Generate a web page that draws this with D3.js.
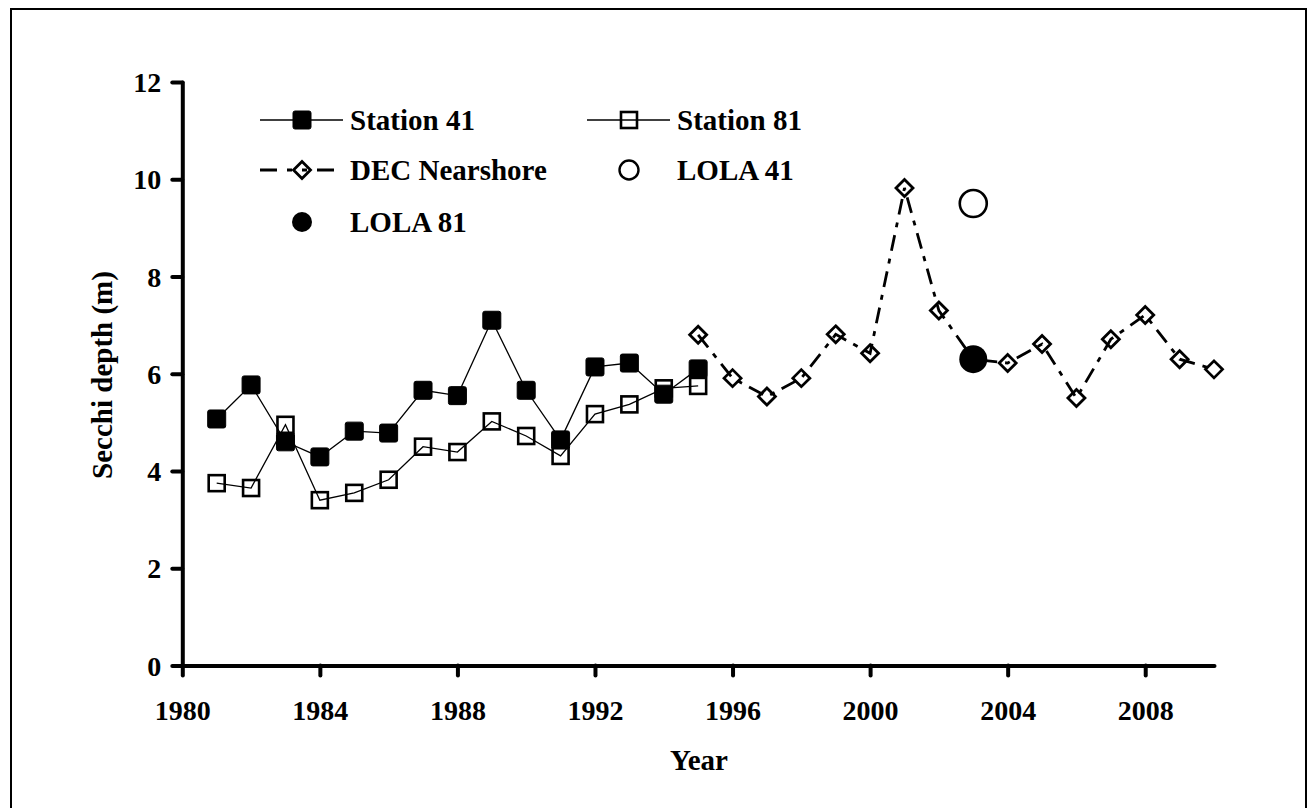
<!DOCTYPE html>
<html>
<head>
<meta charset="utf-8">
<script src="https://cdn.jsdelivr.net/npm/d3@7"></script>
<style>
html,body{margin:0;padding:0;background:#fff;}
svg{display:block;}
text{font-family:"Liberation Serif","Times New Roman",serif;font-weight:bold;fill:#000;}
</style>
</head>
<body>
<svg id="chart" width="1308" height="808"></svg>
<script>
// ---- data ----
const stationYears = [1981,1982,1983,1984,1985,1986,1987,1988,1989,1990,1991,1992,1993,1994,1995];
const station41 = [5.07,5.77,4.6,4.29,4.82,4.78,5.66,5.55,7.1,5.66,4.64,6.14,6.22,5.58,6.1];
const station81 = [3.75,3.65,4.95,3.4,3.55,3.82,4.5,4.39,5.02,4.72,4.31,5.17,5.37,5.7,5.75];
const decYears = [1995,1996,1997,1998,1999,2000,2001,2002,2003,2004,2005,2006,2007,2008,2009,2010];
const decNearshore = [6.8,5.91,5.53,5.91,6.81,6.42,9.82,7.3,6.3,6.22,6.61,5.5,6.71,7.21,6.3,6.09];
const lolaYears = [2003];
const lola41 = [9.5];
const lola81 = [6.3];
const xTickValues = [1980,1984,1988,1992,1996,2000,2004,2008];
const yTickValues = [0,2,4,6,8,10,12];
const legendLabels = ["Station 41","Station 81","DEC Nearshore","LOLA 41","LOLA 81"];

const svg = d3.select("#chart");
// outer frame
svg.append("rect").attr("x",11).attr("y",9).attr("width",1295).attr("height",840)
  .attr("fill","none").attr("stroke","#000").attr("stroke-width",2);

const x = d3.scaleLinear().domain([1980,2010]).range([182.3,1214]);
const y = d3.scaleLinear().domain([0,12]).range([665.5,82]);

// axes
const yAxis = svg.append("g").attr("transform","translate(182.3,0)")
  .call(d3.axisLeft(y).tickValues(yTickValues).tickSize(10).tickSizeOuter(0).tickPadding(11).tickFormat(d3.format("d")));
const xAxis = svg.append("g").attr("transform","translate(0,665.5)")
  .call(d3.axisBottom(x).tickValues(xTickValues).tickSize(10).tickSizeOuter(0).tickPadding(25).tickFormat(d3.format("d")));
[yAxis,xAxis].forEach(g=>{
  g.attr("font-family",null).attr("font-size",null);
  g.select(".domain").attr("stroke","#000").attr("stroke-width",4).attr("stroke-linecap","round");
  g.selectAll(".tick line").attr("stroke","#000").attr("stroke-width",4).attr("stroke-linecap","round");
  g.selectAll(".tick text").style("font-size","28px").attr("fill","#000");
});
yAxis.selectAll(".tick text").attr("dy","0.34em");
xAxis.selectAll(".tick text").attr("dy","0.71em");

// axis titles
svg.append("text").attr("x",699).attr("y",770).attr("text-anchor","middle").style("font-size","29px").text("Year");
svg.append("text").attr("transform","translate(112,375) rotate(-90)").attr("text-anchor","middle").style("font-size","29px").text("Secchi depth (m)");

const plot = svg.append("g");
const line = d3.line().x(d=>x(d[0])).y(d=>y(d[1]));
const s41 = stationYears.map((yr,i)=>[yr,station41[i]]);
const s81 = stationYears.map((yr,i)=>[yr,station81[i]]);
const dec = decYears.map((yr,i)=>[yr,decNearshore[i]]);

const sq = 18;
function filledSquare(g,cx,cy){
  g.append("rect").attr("x",cx-sq/2).attr("y",cy-sq/2).attr("width",sq).attr("height",sq).attr("rx",2)
   .attr("fill","#000").attr("stroke","#000").attr("stroke-width",1);
}
function openSquare(g,cx,cy){
  g.append("rect").attr("x",cx-8).attr("y",cy-8).attr("width",16).attr("height",16)
   .attr("fill","none").attr("stroke","#000").attr("stroke-width",2.6);
}
function diamond(g,cx,cy){
  const r=8.5;
  g.append("path").attr("d",`M${cx},${cy-r}L${cx+r},${cy}L${cx},${cy+r}L${cx-r},${cy}Z`)
   .attr("fill","none").attr("stroke","#000").attr("stroke-width",2.8).attr("stroke-linejoin","miter");
}
const decDash = "16,8,5,8";

// Station 41
plot.append("path").attr("d",line(s41)).attr("fill","none").attr("stroke","#000").attr("stroke-width",1.3);
s41.forEach(d=>filledSquare(plot,x(d[0]),y(d[1])));
// Station 81
plot.append("path").attr("d",line(s81)).attr("fill","none").attr("stroke","#000").attr("stroke-width",1.3);
s81.forEach(d=>openSquare(plot,x(d[0]),y(d[1])));
// DEC Nearshore
plot.append("path").attr("d",line(dec)).attr("fill","none").attr("stroke","#000").attr("stroke-width",2.8).attr("stroke-dasharray",decDash);
dec.forEach(d=>diamond(plot,x(d[0]),y(d[1])));
// LOLA
lolaYears.forEach((yr,i)=>{
  plot.append("circle").attr("cx",x(yr)).attr("cy",y(lola41[i])).attr("r",13.5).attr("fill","#fff").attr("stroke","#000").attr("stroke-width",2.6);
  plot.append("circle").attr("cx",x(yr)).attr("cy",y(lola81[i])).attr("r",14).attr("fill","#000");
});

// legend
const lg = svg.append("g");
const col1 = 302, col2 = 629, rows = [120,170,222];
function legText(cx,cy,t){ lg.append("text").attr("x",cx+48).attr("y",cy+10).style("font-size","29px").text(t); }
// Station 41
lg.append("line").attr("x1",col1-42).attr("x2",col1+41).attr("y1",rows[0]).attr("y2",rows[0]).attr("stroke","#000").attr("stroke-width",1.3);
filledSquare(lg,col1,rows[0]); legText(col1,rows[0],legendLabels[0]);
// Station 81
lg.append("line").attr("x1",col2-42).attr("x2",col2+41).attr("y1",rows[0]).attr("y2",rows[0]).attr("stroke","#000").attr("stroke-width",1.3);
openSquare(lg,col2,rows[0]); legText(col2,rows[0],legendLabels[1]);
// DEC
lg.append("line").attr("x1",col1-42).attr("x2",col1+41).attr("y1",rows[1]).attr("y2",rows[1]).attr("stroke","#000").attr("stroke-width",2.8).attr("stroke-dasharray","17,10,5,10,5,10");
diamond(lg,col1,rows[1]); legText(col1,rows[1],legendLabels[2]);
// LOLA 41
lg.append("circle").attr("cx",col2).attr("cy",rows[1]).attr("r",9.5).attr("fill","#fff").attr("stroke","#000").attr("stroke-width",2.4);
legText(col2,rows[1],legendLabels[3]);
// LOLA 81
lg.append("circle").attr("cx",col1).attr("cy",rows[2]).attr("r",10).attr("fill","#000");
legText(col1,rows[2],legendLabels[4]);
</script>
</body>
</html>
